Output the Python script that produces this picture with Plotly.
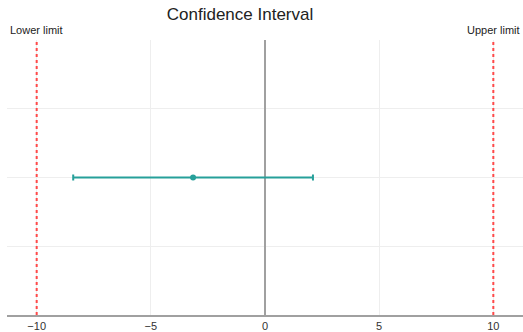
import plotly.graph_objects as go

estimate = [-3.15]
lower = [-8.4]
upper = [2.1]
y_pos = [2]
limits = [-10, 10]
limit_labels = ["Lower limit", "Upper limit"]
tick_vals = [-10, -5, 0, 5, 10]
tick_text = ["−10", "−5", "0", "5", "10"]

color = "#26a09a"

fig = go.Figure()
fig.add_trace(go.Scatter(
    x=estimate, y=y_pos, mode="markers",
    marker=dict(color=color, size=6),
    error_x=dict(type="data", symmetric=False,
                 array=[u - e for u, e in zip(upper, estimate)],
                 arrayminus=[e - l for e, l in zip(estimate, lower)],
                 color=color, thickness=2, width=3),
    showlegend=False,
))

for xv, lab in zip(limits, limit_labels):
    fig.add_shape(type="line", x0=xv, x1=xv, y0=0, y1=1, xref="x", yref="paper",
                  line=dict(color="#ff4a4a", width=2, dash="dot"))
    fig.add_annotation(x=xv, y=1, xref="x", yref="paper", text=lab, showarrow=False,
                       yanchor="bottom", yshift=2, font=dict(size=11, color="#222"))

fig.update_layout(
    width=523, height=332,
    margin=dict(l=7, r=0, t=40, b=17),
    paper_bgcolor="white", plot_bgcolor="white",
    title=dict(text="Confidence Interval", x=240 / 523, xanchor="center", y=0.958,
               yanchor="middle", font=dict(size=17, color="#222", family="Arial")),
    font=dict(family="Arial", size=11, color="#333"),
    xaxis=dict(range=[-11.3, 11.3], tickvals=tick_vals, ticktext=tick_text,
               showgrid=True, gridcolor="#eeeeee", gridwidth=1,
               zeroline=True, zerolinecolor="#a0a0a0", zerolinewidth=2,
               showline=True, linecolor="#a0a0a0", linewidth=1.5, ticks="", fixedrange=True),
    yaxis=dict(range=[0, 4], tickvals=[0, 1, 2, 3, 4], showticklabels=False,
               showgrid=True, gridcolor="#eeeeee", gridwidth=1, zeroline=False,
               showline=False, fixedrange=True),
)

fig.write_html("out.html", config={"displayModeBar": False},
               post_script="document.body.style.margin='0';")
